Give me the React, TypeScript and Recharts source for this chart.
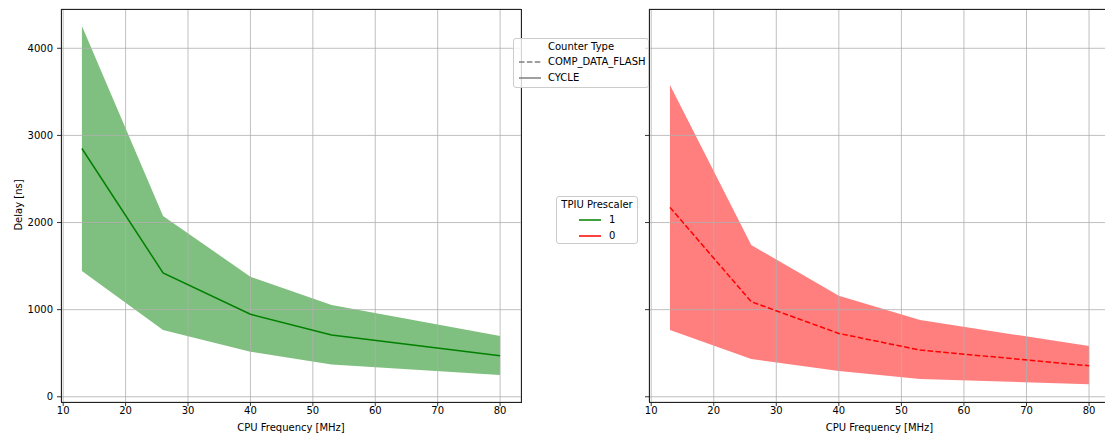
import { ComposedChart, Area, Line, XAxis, YAxis, CartesianGrid } from 'recharts';

// CPU frequency [MHz]
const freqs = [13, 26, 40, 53, 80];

// CYCLE counter, TPIU prescaler 1 (left panel)
const cycleMean = [2850, 1422, 947, 708, 470];
const cycleLow = [1443, 766, 517, 371, 249];
const cycleHigh = [4256, 2075, 1378, 1053, 697];

// COMP_DATA_FLASH counter, TPIU prescaler 0 (right panel)
const flashMean = [2174, 1091, 727, 536, 356];
const flashLow = [766, 433, 295, 203, 145];
const flashHigh = [3579, 1742, 1160, 880, 582];

const xTicks = [10, 20, 30, 40, 50, 60, 70, 80];
const yTicks = [0, 1000, 2000, 3000, 4000];

const counterLegend = [
  { label: 'COMP_DATA_FLASH', color: '#7f7f7f', dash: '5.5 2.4' },
  { label: 'CYCLE', color: '#7f7f7f', dash: undefined },
];
const prescalerLegend = [
  { label: '1', color: '#008000', dash: undefined },
  { label: '0', color: '#ff0000', dash: undefined },
];

const FONT = '"DejaVu Sans", sans-serif';
const X_DOMAIN = [9.65, 83.35];
const Y_DOMAIN = [-60, 4451];

const cycleData = freqs.map((f, i) => ({ freq: f, mean: cycleMean[i], band: [cycleLow[i], cycleHigh[i]] }));
const flashData = freqs.map((f, i) => ({ freq: f, mean: flashMean[i], band: [flashLow[i], flashHigh[i]] }));

const tickStyle = { fontSize: 10, fill: '#000', fontFamily: FONT };

function Panel({ data, color, dash, width, yWidth, right, showYLabels }: any) {
  return (
    <ComposedChart width={width} height={437} data={data} margin={{ top: 9, right, bottom: 0, left: 0 }}>
      <Area
        type="linear"
        dataKey="band"
        fill={color}
        fillOpacity={0.5}
        stroke="none"
        isAnimationActive={false}
      />
      <CartesianGrid stroke="#b0b0b0" strokeWidth={0.8} zIndex={150} />
      <Line
        type="linear"
        dataKey="mean"
        stroke={color}
        strokeWidth={1.5}
        strokeDasharray={dash}
        dot={false}
        activeDot={false}
        isAnimationActive={false}
      />
      <XAxis
        dataKey="freq"
        type="number"
        domain={X_DOMAIN}
        ticks={xTicks}
        allowDataOverflow
        height={35}
        axisLine={false}
        tickLine={{ stroke: '#000', strokeWidth: 0.8 }}
        tickSize={4}
        tickMargin={1}
        tick={tickStyle}
        interval={0}
        label={(p: any) => {
          const vb = p.viewBox;
          return (
            <text x={vb.x + vb.width / 2} y={427} dy="0.35em" textAnchor="middle" fontSize={10} fontFamily={FONT} fill="#000">
              CPU Frequency [MHz]
            </text>
          );
        }}
      />
      <YAxis
        type="number"
        domain={Y_DOMAIN}
        ticks={yTicks}
        allowDataOverflow
        width={yWidth}
        axisLine={false}
        tickLine={{ stroke: '#000', strokeWidth: 0.8 }}
        tickSize={4}
        tickMargin={4}
        tick={tickStyle}
        interval={0}
        tickFormatter={(v: number) => (showYLabels ? String(v) : '')}
        label={
          showYLabels
            ? () => (
                <text x={18} y={205} transform="rotate(-90 18 205)" dy="0.35em" textAnchor="middle" fontSize={10} fontFamily={FONT} fill="#000">
                  Delay [ns]
                </text>
              )
            : undefined
        }
      />
    </ComposedChart>
  );
}

function LegendBox({ left, top, width, height, title, items, handleX, textX }: any) {
  return (
    <div
      style={{
        position: 'absolute',
        left,
        top,
        width,
        height,
        boxSizing: 'border-box',
        border: '1px solid #cccccc',
        borderRadius: 3,
        background: 'rgba(255,255,255,0.8)',
        fontFamily: FONT,
        fontSize: 10,
        color: '#000',
      }}
    >
      <div style={{ position: 'absolute', left: 0, right: 0, top: 1, lineHeight: '14px', textAlign: 'center' }}>{title}</div>
      {items.map((it: any, i: number) => (
        <div key={it.label} style={{ position: 'absolute', left: 0, top: 16 + i * 15.5, height: 14, width: '100%' }}>
          <svg style={{ position: 'absolute', left: handleX, top: 0 }} width={22} height={14}>
            <line x1={0} y1={7} x2={22} y2={7} stroke={it.color} strokeWidth={1.5} strokeDasharray={it.dash} />
          </svg>
          <span style={{ position: 'absolute', left: textX, top: 0, lineHeight: '14px', whiteSpace: 'nowrap' }}>{it.label}</span>
        </div>
      ))}
    </div>
  );
}

export default function App() {
  return (
    <div style={{ position: 'absolute', left: 0, top: 0, width: 1105, height: 437, overflow: 'hidden', background: '#fff' }}>
      <div style={{ position: 'absolute', left: 0, top: 0 }}>
        <Panel data={cycleData} color="#008000" width={530} yWidth={61} right={9} showYLabels />
      </div>
      <div style={{ position: 'absolute', left: 600, top: 0 }}>
        <Panel data={flashData} color="#ff0000" dash="5.5 2.4" width={510} yWidth={49} right={0} showYLabels={false} />
      </div>
      {/* axes frames */}
      <div style={{ position: 'absolute', left: 61, top: 9, width: 461, height: 394, boxSizing: 'border-box', border: '1px solid #222' }} />
      <div style={{ position: 'absolute', left: 649, top: 9, width: 462, height: 394, boxSizing: 'border-box', border: '1px solid #222' }} />

      <LegendBox left={513} top={38} width={136} height={50} title="Counter Type" items={counterLegend} handleX={5} textX={34} />
      <LegendBox left={556} top={196} width={82} height={48} title="TPIU Prescaler" items={prescalerLegend} handleX={22} textX={52} />
    </div>
  );
}
